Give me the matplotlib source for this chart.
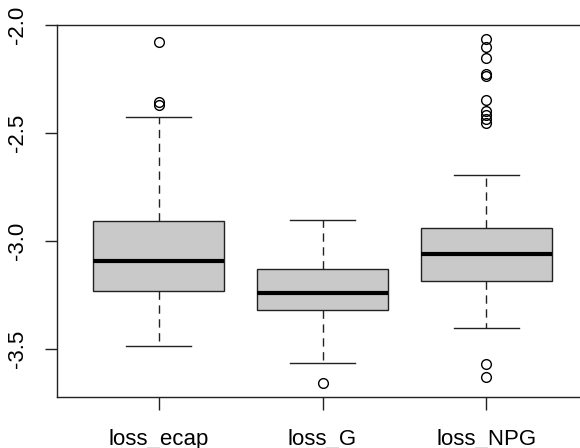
import matplotlib.pyplot as plt

plt.rcParams["font.family"] = ["Liberation Sans", "DejaVu Sans"]

# Box statistics per loss (whiskers, quartiles, median) and outliers
labels = ["loss_ecap", "loss_G", "loss_NPG"]
whislo = [-3.487, -3.564, -3.402]
q1 = [-3.231, -3.320, -3.182]
med = [-3.093, -3.239, -3.060]
q3 = [-2.906, -3.129, -2.937]
whishi = [-2.4235, -2.903, -2.696]
fliers = [
    [-2.080, -2.358, -2.368],
    [-3.657],
    [-2.066, -2.103, -2.154, -2.228, -2.238, -2.345, -2.400, -2.414,
     -2.433, -2.451, -3.566, -3.627],
]

stats = []
for i, name in enumerate(labels):
    stats.append({
        "label": name, "whislo": whislo[i], "q1": q1[i], "med": med[i],
        "q3": q3[i], "whishi": whishi[i], "fliers": fliers[i],
    })

fig = plt.figure(figsize=(5.8, 4.48), dpi=100)
# axes frame runs slightly past the right edge of the image
ax = fig.add_axes([57 / 580, 51 / 448, 531 / 580, 372 / 448])

edge = "#222222"
ax.bxp(
    stats, positions=[1, 2, 3], widths=0.8, patch_artist=True,
    boxprops=dict(facecolor="#c9c9c9", edgecolor=edge, linewidth=1.0),
    medianprops=dict(color="black", linewidth=3.0, solid_capstyle="butt"),
    whiskerprops=dict(color=edge, linewidth=1.0, linestyle=(0, (6, 4))),
    capprops=dict(color=edge, linewidth=1.0),
    flierprops=dict(marker="o", markerfacecolor="none", markeredgecolor="black",
                    markersize=7, markeredgewidth=1.0),
    capwidths=0.4,
)

# R-style 4% padding on both axes
allv = [v for f in fliers for v in f] + whislo + whishi
lo, hi = min(allv), max(allv)
pad = 0.04 * (hi - lo)
ax.set_ylim(lo - pad, hi + pad)
ax.set_xlim(0.5 - 0.12, 3.5 + 0.12)

ax.set_yticks([-3.5, -3.0, -2.5, -2.0])
ax.set_yticklabels(["-3.5", "-3.0", "-2.5", "-2.0"], rotation=90, va="center")
ax.set_xticks([1, 2, 3])
ax.set_xticklabels(labels)
ax.tick_params(axis="both", direction="out", length=9, width=1.0,
               color=edge, labelsize=16)
ax.tick_params(axis="x", pad=14)
ax.tick_params(axis="y", pad=12)
for s in ax.spines.values():
    s.set_color(edge)
    s.set_linewidth(1.0)

fig.savefig("out.png", dpi=100)
